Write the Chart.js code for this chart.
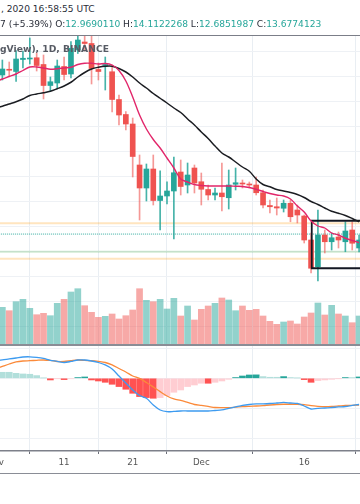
<!DOCTYPE html>
<html><head><meta charset="utf-8">
<script src="https://cdn.jsdelivr.net/npm/chart.js@4.4.1/dist/chart.umd.min.js"></script>
<style>
html,body{margin:0;padding:0;background:#fff;}
body{width:360px;height:504px;position:relative;overflow:hidden;font-family:"DejaVu Sans",sans-serif;}
.t{position:absolute;left:0;white-space:nowrap;font-size:9.1px;line-height:12px;color:#2a2e39;z-index:3}
#h1{top:3px;left:1px}
#h2{top:18px}
#h2 .v{color:#26a69a}
#ttl{top:43px;font-weight:bold;font-size:9.2px;color:#575b64}
.ln{position:absolute;left:0;width:360px;z-index:4}
#topl{top:35px;height:1px;background:#7b7e88}
#sep{top:344px;height:2px;background:#8a8d96}
#botl{top:473px;height:1px;background:#8a8d96}
#pc{position:absolute;left:-30px;top:35px;}
#mc{position:absolute;left:-30px;top:346px;}
</style></head>
<body>
<div class="t" id="h1"></div>
<div class="t" id="h2"></div>
<div class="t" id="ttl"></div>
<canvas id="pc" width="390" height="310"></canvas>
<canvas id="mc" width="390" height="127"></canvas>
<div class="ln" id="topl"></div>
<div class="ln" id="sep"></div>
<div class="ln" id="botl"></div>
<script>
// ---------- data ----------
const headerTime = ', 2020 16:58:55 UTC';
const headerChange = '7 (+5.39%)';
const headerOHLC = [['O:', '12.9690110'], ['H:', '14.1122268'], ['L:', '12.6851987'], ['C:', '13.6774123']];
const chartTitle = 'gView), 1D, BINANCE';

const tickDays = [0, 10, 20, 30, 45];           // days since Nov 1
const tickLabels = ['Nov', '11', '21', 'Dec', '16'];
const priceGrid = [10, 11, 12, 13, 14, 15, 16, 17, 18, 19, 20, 21];
const macdGrid = [0.5, 0, -0.5, -1];

const firstCandleDay = 1;
const open = [20.04,20.27,20.18,20.66,20.68,20.73,20.46,19.62,19.72,20.38,
20.08,21.04,21.36,21.30,20.26,20.42,20.17,19.06,18.46,18.08,
16.44,15.52,16.28,15.02,15.20,15.40,16.16,15.64,16.32,15.77,
15.46,15.24,15.32,15.13,15.67,15.72,15.68,15.64,15.33,14.82,
14.77,14.71,14.91,14.64,14.40,13.44,12.37,13.64,13.37,13.56,
13.37,13.84,13.12];
const high = [20.64,20.56,21.02,21.00,21.52,20.92,20.84,19.96,20.64,20.76,
21.38,21.80,21.75,21.64,20.52,20.76,20.44,19.24,18.58,18.32,
16.84,16.48,16.84,16.21,15.77,16.76,16.64,16.52,16.44,16.12,
15.64,15.52,16.52,16.24,16.32,15.84,15.76,15.96,15.44,15.04,
15.12,15.04,15.04,14.84,14.44,13.72,14.64,13.84,13.72,13.76,
14.17,14.17,13.64];
const low = [19.84,20.00,19.78,20.32,20.48,20.20,19.08,19.40,19.52,19.84,
19.92,20.90,21.00,19.68,19.84,19.44,18.56,18.04,17.84,15.96,
14.24,15.00,14.84,13.84,14.88,13.48,15.24,15.32,15.32,14.84,
15.04,15.04,14.60,14.68,15.44,15.52,15.52,15.24,14.72,14.52,
14.44,14.56,14.17,14.12,13.32,12.12,11.80,12.92,13.04,13.12,
12.97,13.04,12.96];
const close = [20.28,20.23,20.68,20.71,20.72,20.42,19.62,19.77,20.40,20.06,
21.11,21.44,21.30,20.30,20.18,20.46,19.06,18.44,18.08,16.78,
15.52,16.28,15.02,15.20,15.40,16.13,15.58,16.04,15.72,15.47,
15.24,15.32,15.17,15.64,15.73,15.68,15.64,15.33,14.84,14.77,
14.72,14.91,14.37,14.44,13.44,12.31,13.64,13.37,13.53,13.44,
13.80,13.31,13.44];
const volume = [3.77,3.43,4.33,4.57,3.67,3.03,3.17,2.93,4.17,4.57,
5.30,5.63,3.93,3.27,2.77,2.87,3.10,2.60,2.93,3.50,
5.63,4.47,4.33,4.57,3.60,4.67,2.90,3.90,2.50,3.57,
3.90,4.17,4.70,4.50,3.43,3.90,3.47,3.57,2.90,2.37,
2.07,2.30,2.40,2.10,2.80,3.20,4.20,3.00,3.97,3.10,
2.90,2.23,2.90];

const firstLineDay = 0;
const maFast = [19.76,19.88,19.98,20.08,20.22,20.36,20.36,20.32,20.27,20.29,
20.32,20.35,20.46,20.51,20.51,20.48,20.50,20.44,20.22,19.80,
19.16,18.44,17.88,17.46,17.12,16.72,16.32,15.88,15.76,15.66,
15.62,15.60,15.60,15.60,15.60,15.59,15.58,15.54,15.47,15.38,
15.30,15.24,15.20,15.08,14.80,14.56,14.20,14.00,13.92,13.72,
13.64,13.51,13.42,13.34];
const maSlow = [18.72,18.79,18.88,18.97,19.08,19.22,19.28,19.33,19.39,19.49,
19.60,19.75,19.96,20.14,20.28,20.35,20.39,20.39,20.30,20.16,
19.96,19.72,19.52,19.30,19.11,18.92,18.72,18.54,18.28,18.04,
17.76,17.50,17.20,16.92,16.76,16.56,16.36,16.19,15.88,15.66,
15.57,15.46,15.40,15.34,15.26,15.14,14.98,14.86,14.72,14.59,
14.51,14.42,14.30,14.17];
const macdLine = [0.288,0.308,0.322,0.338,0.355,0.358,0.347,0.330,0.300,0.283,
0.263,0.280,0.305,0.305,0.288,0.263,0.222,0.155,0.038,-0.078,
-0.195,-0.287,-0.333,-0.445,-0.528,-0.557,-0.553,-0.545,-0.545,-0.545,
-0.545,-0.545,-0.537,-0.528,-0.503,-0.478,-0.453,-0.437,-0.428,-0.425,
-0.420,-0.412,-0.403,-0.412,-0.420,-0.462,-0.512,-0.500,-0.495,-0.487,
-0.478,-0.470,-0.453,-0.437];
const signalLine = [0.155,0.197,0.238,0.272,0.288,0.293,0.300,0.305,0.297,0.280,
0.280,0.293,0.305,0.297,0.292,0.280,0.263,0.222,0.163,0.105,
0.038,-0.003,-0.070,-0.145,-0.223,-0.295,-0.345,-0.370,-0.403,-0.437,
-0.453,-0.470,-0.487,-0.490,-0.490,-0.482,-0.473,-0.467,-0.462,-0.455,
-0.445,-0.437,-0.433,-0.433,-0.433,-0.440,-0.457,-0.467,-0.473,-0.470,
-0.462,-0.453,-0.450,-0.445];
const histogram = [0.117,0.100,0.100,0.083,0.072,0.067,0.045,0.005,-0.028,-0.005,
-0.022,-0.008,0.012,0.022,-0.028,-0.045,-0.067,-0.100,-0.138,-0.183,
-0.250,-0.305,-0.322,-0.333,-0.322,-0.288,-0.233,-0.195,-0.138,-0.112,
-0.083,-0.083,-0.067,-0.045,-0.017,0.012,0.038,0.055,0.057,0.028,
0.017,0.017,0.028,0.012,0.005,-0.022,-0.067,-0.038,-0.028,-0.017,
-0.005,0.012,0.012,0.022];

const levelValues = [14.1122268, 13.6774123, 12.9690110, 12.6851987]; // H, C, O, L
const boxTop = 14.21, boxBottom = 12.31, boxStartDay = 46.1, boxEndDay = 58;
const priceMin = 9.24, priceMax = 21.64, volumeMax = 31;
const macdMin = -1.212, macdMax = 0.538;
const dayMin = -3.717, dayMax = 53.134;

// ---------- header ----------
document.getElementById('h1').textContent = headerTime;
document.getElementById('ttl').textContent = chartTitle;
(function(){
  const h2 = document.getElementById('h2');
  let html = headerChange;
  headerOHLC.forEach(([k, v]) => { html += ' ' + k + '<span class="v">' + v + '</span>'; });
  h2.innerHTML = html;
})();

// ---------- helpers ----------
const UP = '#26a69a', DOWN = '#ef5350';
const candleX = open.map((_, i) => firstCandleDay + i);
const lineX = maFast.map((_, i) => firstLineDay + i);
const isUp = i => close[i] >= open[i];

function xAxis(show) {
  return {
    type: 'linear', min: dayMin, max: dayMax, offset: false,
    afterBuildTicks: s => { s.ticks = tickDays.map(v => ({ value: v })); },
    grid: { color: '#e9eef3', lineWidth: 1, drawTicks: show, tickLength: 3, tickColor: '#6b6e78' },
    border: { display: show, color: '#7d808a', width: 1.5 },
    ticks: {
      display: show, autoSkip: false, maxRotation: 0, minRotation: 0, padding: 4,
      color: '#555', font: { family: 'DejaVu Sans', size: 8.7 },
      callback: v => { const i = tickDays.indexOf(v); return i < 0 ? '' : tickLabels[i]; }
    },
    afterFit: s => { s.height = show ? 22 : 0; }
  };
}
function yGrid(min, max, grid) {
  return {
    min, max, position: 'left',
    afterBuildTicks: s => { s.ticks = grid.map(v => ({ value: v })); },
    grid: { color: '#eef1f5', lineWidth: 1, drawTicks: false },
    border: { display: false },
    ticks: { display: false },
    afterFit: s => { s.width = 0; }
  };
}
const common = {
  responsive: false, animation: false, events: [],
  layout: { padding: 0 },
  plugins: { legend: { display: false }, tooltip: { enabled: false } }
};
function hLine(v, color, width, dash, order) {
  return { type: 'line', data: [{ x: dayMin - 1, y: v }, { x: boxEndDay, y: v }], borderColor: color,
    borderWidth: width, borderDash: dash, pointRadius: 0, yAxisID: 'y', order };
}

// ---------- price + volume ----------
new Chart(document.getElementById('pc'), {
  data: {
    datasets: [
      { type: 'line', data: lineX.map((x, i) => ({ x, y: maFast[i] })), borderColor: '#e2266a', borderWidth: 1.4,
        pointRadius: 0, tension: 0.35, yAxisID: 'y', order: 0 },
      { type: 'line', data: lineX.map((x, i) => ({ x, y: maSlow[i] })), borderColor: '#1b1d22', borderWidth: 1.5,
        pointRadius: 0, tension: 0.35, yAxisID: 'y', order: 0 },
      { type: 'line', data: [{ x: boxEndDay, y: boxTop }, { x: boxStartDay, y: boxTop }, { x: boxStartDay, y: boxBottom }, { x: boxEndDay, y: boxBottom }],
        borderColor: '#131722', borderWidth: 1.8, pointRadius: 0, tension: 0, yAxisID: 'y', order: 1 },
      { type: 'bar', data: candleX.map((x, i) => ({ x, y: [open[i], close[i]] })), grouped: false, barThickness: 5,
        minBarLength: 1, backgroundColor: c => isUp(c.dataIndex) ? UP : DOWN, borderWidth: 0, yAxisID: 'y', order: 2 },
      { type: 'bar', data: candleX.map((x, i) => ({ x, y: [low[i], high[i]] })), grouped: false, barThickness: 1,
        backgroundColor: c => isUp(c.dataIndex) ? 'rgba(38,166,154,0.85)' : 'rgba(239,83,80,0.6)', borderWidth: 0, yAxisID: 'y', order: 3 },
      hLine(levelValues[0], 'rgba(255,152,0,0.25)', 2, [], 4),
      hLine(levelValues[1], 'rgba(38,166,154,0.9)', 1, [1, 1], 4),
      hLine(levelValues[2], 'rgba(76,175,80,0.25)', 2, [], 4),
      hLine(levelValues[3], 'rgba(255,152,0,0.25)', 2, [], 4),
      { type: 'bar', data: candleX.map((x, i) => ({ x, y: volume[i] })), grouped: false, barThickness: 6,
        backgroundColor: c => isUp(c.dataIndex) ? 'rgba(38,166,154,0.5)' : 'rgba(239,83,80,0.5)', borderWidth: 0, yAxisID: 'yv', order: 5 }
    ]
  },
  options: Object.assign({}, common, {
    scales: {
      x: xAxis(false),
      y: yGrid(priceMin, priceMax, priceGrid),
      yv: { min: 0, max: volumeMax, display: false }
    }
  })
});

// ---------- MACD ----------
function histColor(c) {
  const i = c.dataIndex, v = histogram[i], p = i > 0 ? histogram[i - 1] : v;
  if (v >= 0) return p < v ? '#26a69a' : '#b2dfdb';
  return p < v ? '#ffcdd2' : '#ff5252';
}
new Chart(document.getElementById('mc'), {
  data: {
    datasets: [
      { type: 'line', data: lineX.map((x, i) => ({ x, y: macdLine[i] })), borderColor: '#3d9bf0', borderWidth: 1.3,
        pointRadius: 0, tension: 0.3, yAxisID: 'y', order: 0 },
      { type: 'line', data: lineX.map((x, i) => ({ x, y: signalLine[i] })), borderColor: '#fb8a3a', borderWidth: 1.3,
        pointRadius: 0, tension: 0.3, yAxisID: 'y', order: 0 },
      { type: 'bar', data: lineX.map((x, i) => ({ x, y: histogram[i] })), grouped: false, barThickness: 6,
        backgroundColor: histColor, borderWidth: 0, yAxisID: 'y', order: 1 }
    ]
  },
  options: Object.assign({}, common, {
    scales: {
      x: xAxis(true),
      y: yGrid(macdMin, macdMax, macdGrid)
    }
  })
});
</script>
</body></html>
